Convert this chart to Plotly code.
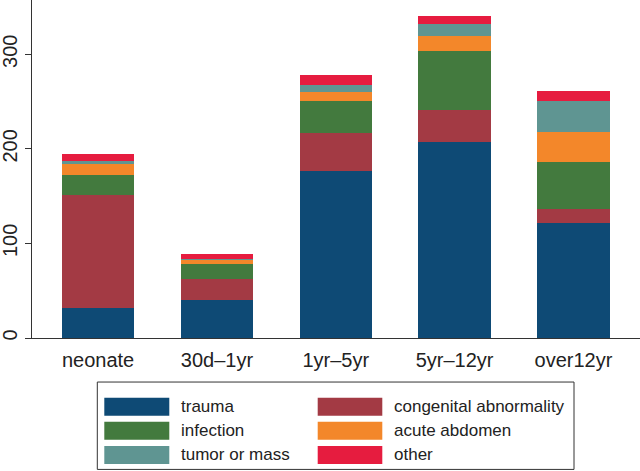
import plotly.graph_objects as go

categories = ["neonate", "30d\u20131yr", "1yr\u20135yr", "5yr\u201312yr", "over12yr"]
trauma = [32, 40, 177, 207, 122]
congenital = [119, 22, 40, 34, 14]
infection = [21, 16, 34, 63, 50]
acute_abdomen = [12, 4, 9, 15, 32]
tumor = [3, 2, 8, 13, 33]
other = [8, 5, 10, 8, 10]

series = [
    ("trauma", trauma, "#0e4a75"),
    ("congenital abnormality", congenital, "#a33a44"),
    ("infection", infection, "#437a3e"),
    ("acute abdomen", acute_abdomen, "#f3872a"),
    ("tumor or mass", tumor, "#5f9592"),
    ("other", other, "#e61c3f"),
]
yticks = [0, 100, 200, 300]

W, H = 640, 471
L, R, T, B = 32, 0, 0, 133.3
FONT = "Liberation Sans, Arial, Helvetica, sans-serif"

fig = go.Figure()
for name, vals, col in series:
    fig.add_trace(go.Bar(
        x=list(range(len(categories))), y=vals, name=name,
        marker=dict(color=col, line=dict(width=0)),
        width=0.61, showlegend=False, hoverinfo="skip",
    ))

def px_x(px):
    return (px - L) / (W - L - R)

def px_y(py):
    return (H - B - py) / (H - T - B)

shapes = []
annotations = []
# legend box
shapes.append(dict(type="rect", xref="paper", yref="paper",
                   x0=px_x(97.3), x1=px_x(574), y0=px_y(469), y1=px_y(381.7),
                   line=dict(color="#333333", width=1), fillcolor="white"))
legend_layout = [
    ("trauma", 0, 0), ("congenital abnormality", 1, 0),
    ("infection", 0, 1), ("acute abdomen", 1, 1),
    ("tumor or mass", 0, 2), ("other", 1, 2),
]
colors = {n: c for n, _, c in series}
col_sw = [(104.3, 169.3, 179.3), (317.7, 382.3, 391.7)]
row_cy = [406.5, 430.3, 454.5]
for name, c, r in legend_layout:
    sx0, sx1, tx = col_sw[c]
    cy = row_cy[r]
    shapes.append(dict(type="rect", xref="paper", yref="paper",
                       x0=px_x(sx0), x1=px_x(sx1), y0=px_y(cy + 9), y1=px_y(cy - 9),
                       line=dict(width=0), fillcolor=colors[name]))
    annotations.append(dict(xref="paper", yref="paper", x=px_x(tx), y=px_y(cy),
                            xanchor="left", yanchor="middle", text=name, showarrow=False,
                            font=dict(family=FONT, size=17, color="#222222")))

fig.update_layout(
    width=W, height=H,
    barmode="stack",
    hovermode=False,
    margin=dict(l=L, r=R, t=T, b=B, pad=0),
    paper_bgcolor="white", plot_bgcolor="white",
    font=dict(family=FONT, size=20, color="#222222"),
    xaxis=dict(
        tickmode="array", tickvals=list(range(len(categories))), ticktext=categories,
        range=[-0.556, 4.56], showgrid=False, zeroline=False,
        showline=True, linecolor="#333333", linewidth=1,
        ticks="outside", ticklen=4, tickcolor="rgba(0,0,0,0)", tickfont=dict(size=20),
        automargin=False, fixedrange=True,
    ),
    yaxis=dict(
        range=[0, 357.4], tickmode="array", tickvals=yticks,
        showgrid=False, zeroline=False, showline=True, linecolor="#333333", linewidth=1,
        ticks="outside", ticklen=6, tickcolor="#333333", tickangle=-90,
        tickfont=dict(size=20), automargin=False, fixedrange=True,
    ),
    shapes=shapes, annotations=annotations,
    showlegend=False,
)

fig.write_html("out.html", config={"displayModeBar": False, "staticPlot": True},
               post_script="document.body.style.margin='0';document.body.style.padding='0';")
